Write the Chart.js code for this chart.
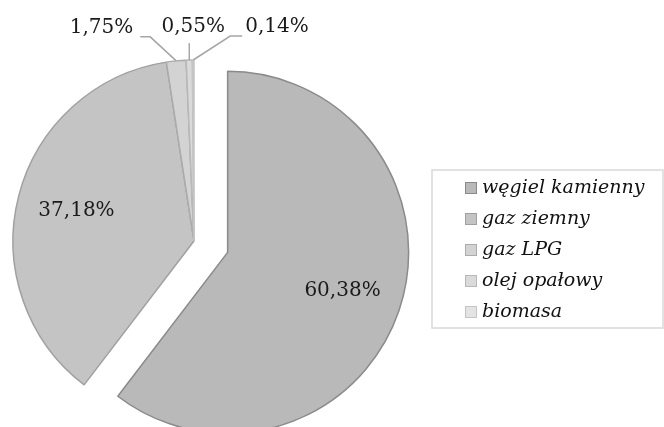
<!DOCTYPE html>
<html lang="pl">
<head>
<meta charset="UTF-8">
<title>Struktura paliw</title>
<script src="https://cdn.jsdelivr.net/npm/chart.js"></script>
<style>
  html, body { margin: 0; padding: 0; background: #fff; }
  #wykres-box { width: 664px; height: 427px; position: relative; }
</style>
</head>
<body>
<div id="wykres-box"><canvas id="wykresPaliwa"></canvas></div>
<script>
// dane
const kategorie = ['węgiel kamienny', 'gaz ziemny', 'gaz LPG', 'olej opałowy', 'biomasa'];
const udzialy = [60.38, 37.18, 1.75, 0.55, 0.14];

// wygląd wycinków
const kolory = ['#b9b9b9', '#c4c4c4', '#d3d3d3', '#dadada', '#e4e4e4'];
const obramowania = ['#8a8a8a', '#a0a0a0', '#ababab', '#b8b8b8', '#c4c4c4'];
const wysuniecia = [35.5, 0, 0, 0, 0]; // px, wysunięcie wycinka wzdłuż jego środka

// etykiety poza kołem (linie odniesienia) - null = etykieta w środku wycinka
const opisyZewn = [
    null,
    null,
    { dx: -26, dy: -24, polka: -10, align: 'right', tx: -7 },
    { dx: 0, dy: -17, polka: 0, align: 'center', tx: 4 },
    { dx: 37, dy: -24, polka: 12, align: 'left', tx: 3 }
];

function procent(v) {
    return v.toFixed(2).replace('.', ',') + '%';
}

// wysuwa wycinek bez zmiany promienia (wbudowany offset powiększa duże wycinki)
const wysuwanie = {
    id: 'wysuwanie',
    afterDatasetUpdate(chart, args) {
        args.meta.data.forEach((arc, i) => {
            const d = wysuniecia[i] || 0;
            const mid = (arc.startAngle + arc.endAngle) / 2;
            arc.x += Math.cos(mid) * d;
            arc.y += Math.sin(mid) * d;
        });
    }
};

const etykiety = {
    id: 'etykiety',
    afterDatasetsDraw(chart) {
        const ctx = chart.ctx;
        const meta = chart.getDatasetMeta(0);
        ctx.save();
        ctx.font = '20px "DejaVu Serif"';
        ctx.textBaseline = 'middle';
        meta.data.forEach((arc, i) => {
            const p = arc.getProps(['x', 'y', 'startAngle', 'endAngle', 'outerRadius']);
            const mid = (p.startAngle + p.endAngle) / 2;
            const r = p.outerRadius;
            const txt = procent(udzialy[i]);
            const o = opisyZewn[i];
            ctx.fillStyle = '#1a1a1a';
            if (!o) {
                ctx.textAlign = 'center';
                ctx.fillText(txt, p.x + Math.cos(mid) * r * 0.67, p.y + Math.sin(mid) * r * 0.67);
                return;
            }
            const ex = p.x + Math.cos(mid) * r;
            const ey = p.y + Math.sin(mid) * r;
            const kx = ex + o.dx, ky = ey + o.dy;
            const px = kx + o.polka;
            ctx.strokeStyle = '#a6a6a6';
            ctx.lineWidth = 1.5;
            ctx.beginPath();
            ctx.moveTo(ex, ey);
            ctx.lineTo(kx, ky);
            ctx.lineTo(px, ky);
            ctx.stroke();
            ctx.textAlign = o.align;
            const ty = o.polka === 0 ? ky - 16 : ky - 9;
            ctx.fillText(txt, px + o.tx, ty);
        });
        ctx.restore();
    }
};

const legenda = {
    id: 'legenda',
    afterDraw(chart, args, opts) {
        const ctx = chart.ctx;
        const ds = chart.data.datasets[0];
        ctx.save();
        ctx.strokeStyle = '#d9d9d9';
        ctx.lineWidth = 1.5;
        ctx.strokeRect(opts.x, opts.y, opts.w, opts.h);
        ctx.font = 'italic 19px "DejaVu Serif"';
        ctx.textBaseline = 'middle';
        ctx.textAlign = 'left';
        chart.data.labels.forEach((lab, i) => {
            const y = opts.y + opts.pierwszy + i * opts.krok;
            ctx.fillStyle = ds.backgroundColor[i];
            ctx.fillRect(opts.x + 33, y - 6, 12, 12);
            ctx.strokeStyle = ds.borderColor[i];
            ctx.lineWidth = 1;
            ctx.strokeRect(opts.x + 33.5, y - 5.5, 11, 11);
            ctx.fillStyle = '#111';
            ctx.fillText(lab, opts.x + 50, y);
        });
        ctx.restore();
    }
};

const graficoPaliwa = document.getElementById('wykresPaliwa');
new Chart(graficoPaliwa, {
    type: 'pie',
    data: {
        labels: kategorie,
        datasets: [{
            data: udzialy,
            backgroundColor: kolory,
            borderColor: obramowania,
            borderWidth: 1.5,
            offset: 0,
            hoverOffset: 0,
            radius: 181,
            clip: false
        }]
    },
    options: {
        responsive: true,
        maintainAspectRatio: false,
        animation: false,
        events: [],
        layout: { padding: { left: 0, right: 276, top: 55, bottom: 0 } },
        plugins: {
            legend: { display: false },
            tooltip: { enabled: false },
            legenda: { x: 432, y: 170, w: 231, h: 158, pierwszy: 18, krok: 31 }
        }
    },
    plugins: [wysuwanie, etykiety, legenda]
});
</script>
</body>
</html>
